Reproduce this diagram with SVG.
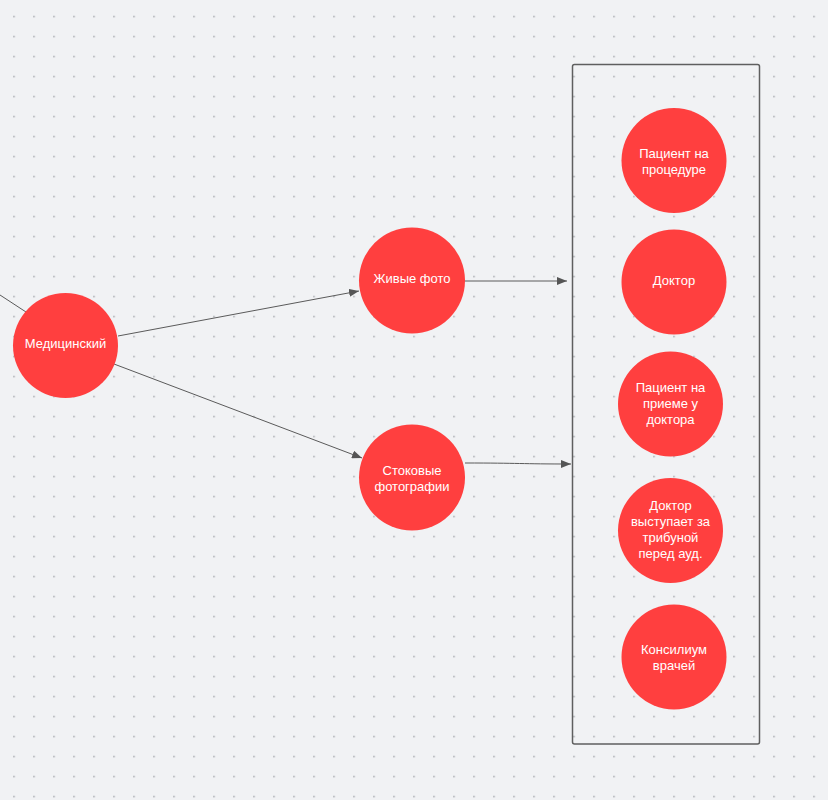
<svg xmlns="http://www.w3.org/2000/svg" width="828" height="800" viewBox="0 0 828 800">
  <defs>
    <pattern id="dots" x="13.25" y="15.75" width="20" height="20" patternUnits="userSpaceOnUse">
      <rect x="0" y="0" width="1.5" height="1.5" fill="#a3a6ab"/>
    </pattern>
    <marker id="arrow" viewBox="0 0 10 8" refX="10" refY="4" markerWidth="10" markerHeight="8" markerUnits="userSpaceOnUse" orient="auto">
      <path d="M0,0 L10,4 L0,8 Z" fill="#555"/>
    </marker>
    <style>
      .node circle { fill: #ff3f3f; }
      .node text { fill: #ffffff; font-family: "Liberation Sans", Arial, sans-serif; font-size: 13px; text-anchor: middle; dominant-baseline: central; }
      .conn { fill: none; stroke: #5a5a5a; stroke-width: 1; }
    </style>
  </defs>
  <rect width="828" height="800" fill="#f1f2f4"/>
  <rect width="828" height="800" fill="url(#dots)"/>

  <g id="container">
    <rect x="572.5" y="64.5" width="187" height="679.5" rx="2" ry="2" fill="none" stroke="#5f5f5f" stroke-width="1.5"/>
  </g>

  <g id="connectors">
    <path class="conn" d="M0,295 L26,312"/>
    <path class="conn" d="M118,336 L359,291" marker-end="url(#arrow)"/>
    <path class="conn" d="M114,364 L362,458" marker-end="url(#arrow)"/>
    <path class="conn" d="M465,281 L567,281" marker-end="url(#arrow)"/>
    <path class="conn" d="M465,463 C520,463 520,464 571,464" marker-end="url(#arrow)"/>
  </g>

  <g id="node-medical" class="node">
    <circle cx="65.5" cy="345.5" r="52.5"/>
    <text x="65.5" y="343">Медицинский</text>
  </g>
  <g id="node-live" class="node">
    <circle cx="412" cy="280.5" r="53"/>
    <text x="412" y="278">Живые фото</text>
  </g>
  <g id="node-stock" class="node">
    <circle cx="412" cy="477.5" r="53"/>
    <text x="412" y="470">Стоковые</text>
    <text x="412" y="486">фотографии</text>
  </g>
  <g id="node-procedure" class="node">
    <circle cx="674" cy="160.5" r="52.5"/>
    <text x="674" y="153">Пациент на</text>
    <text x="674" y="169">процедуре</text>
  </g>
  <g id="node-doctor" class="node">
    <circle cx="674" cy="282" r="52.5"/>
    <text x="674" y="280">Доктор</text>
  </g>
  <g id="node-appointment" class="node">
    <circle cx="670.5" cy="404" r="52.5"/>
    <text x="670.5" y="387">Пациент на</text>
    <text x="670.5" y="403">приеме у</text>
    <text x="670.5" y="419">доктора</text>
  </g>
  <g id="node-speaker" class="node">
    <circle cx="670.5" cy="530.5" r="52.5"/>
    <text x="670.5" y="505">Доктор</text>
    <text x="670.5" y="521">выступает за</text>
    <text x="670.5" y="537">трибуной</text>
    <text x="670.5" y="553">перед ауд.</text>
  </g>
  <g id="node-council" class="node">
    <circle cx="674" cy="657" r="52.5"/>
    <text x="674" y="649">Консилиум</text>
    <text x="674" y="665">врачей</text>
  </g>
</svg>
